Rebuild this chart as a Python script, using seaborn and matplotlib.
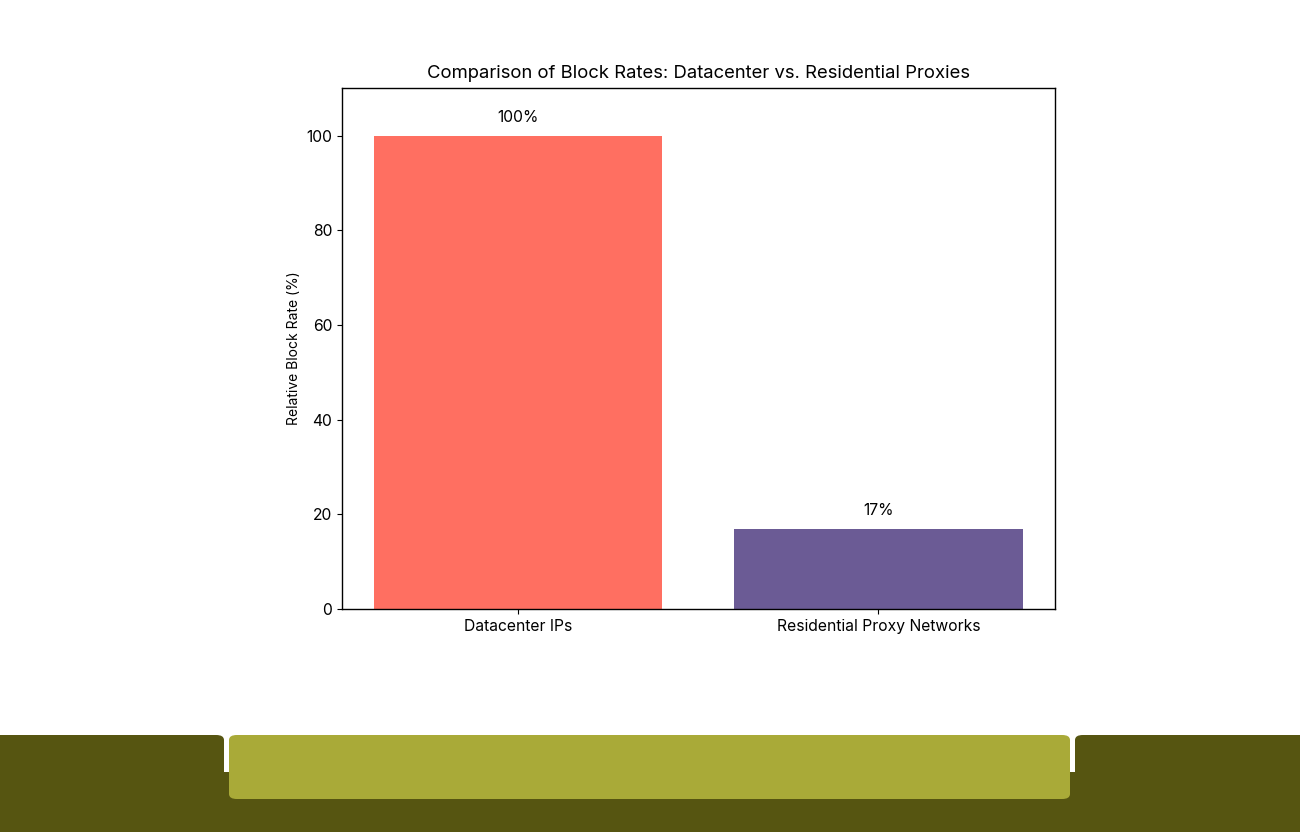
import matplotlib.pyplot as plt
import seaborn as sns
import pandas as pd
from matplotlib.patches import FancyBboxPatch, Rectangle

categories = ["Datacenter IPs", "Residential Proxy Networks"]
block_rates = [100, 17]
bar_colors = ["#FF6F61", "#6B5B95"]
yticks = [0, 20, 40, 60, 80, 100]


def draw_footer(fig):
    # decorative olive bands at the bottom of the page
    W, H = 1300, 832
    dark = "#565511"
    light = "#A9AA38"

    def box(x0, y0, x1, y1, color, rounded=True):
        if rounded:
            p = FancyBboxPatch((x0 / W, 1 - y1 / H), (x1 - x0) / W, (y1 - y0) / H,
                               boxstyle="round,pad=0,rounding_size=0.006",
                               transform=fig.transFigure, facecolor=color,
                               edgecolor="none", zorder=0)
        else:
            p = Rectangle((x0 / W, 1 - y1 / H), (x1 - x0) / W, (y1 - y0) / H,
                          transform=fig.transFigure, facecolor=color,
                          edgecolor="none", zorder=0)
        fig.patches.append(p)

    box(0, 772, 1300, 832, dark, rounded=False)
    box(-20, 735, 224, 852, dark)
    box(1075, 735, 1320, 852, dark)
    box(229, 735, 1070, 799, light)


def block_rate_chart(df):
    fig = plt.figure(figsize=(13, 8.32), dpi=100)
    ax = fig.add_axes([0.263, 0.268, 0.5485, 0.626])
    sns.barplot(data=df, x="category", y="rate", hue="category",
                palette=bar_colors, width=0.8, saturation=1, legend=False,
                linewidth=0, edgecolor="none", ax=ax)

    for i, v in enumerate(df["rate"]):
        ax.text(i, v + 2.3, f"{v}%", ha="center", va="bottom", fontsize=11.3,
                color="black")

    ax.set_xlim(-0.49, 1.49)
    ax.set_ylim(0, 110)
    ax.set_yticks(yticks)
    ax.set_title("Comparison of Block Rates: Datacenter vs. Residential Proxies",
                 fontsize=13.3, pad=7, color="black")
    ax.set_ylabel("Relative Block Rate (%)", fontsize=10, color="black")
    ax.set_xlabel("")
    ax.tick_params(labelsize=11.3, colors="black")
    for s in ax.spines.values():
        s.set_linewidth(1)
        s.set_color("black")

    draw_footer(fig)
    fig.savefig("out.png", dpi=100)


if __name__ == "__main__":
    sns.set_style("ticks")
    plt.rcParams["font.family"] = ["Inter", "DejaVu Sans"]
    df = pd.DataFrame({"category": categories, "rate": block_rates})
    block_rate_chart(df)
